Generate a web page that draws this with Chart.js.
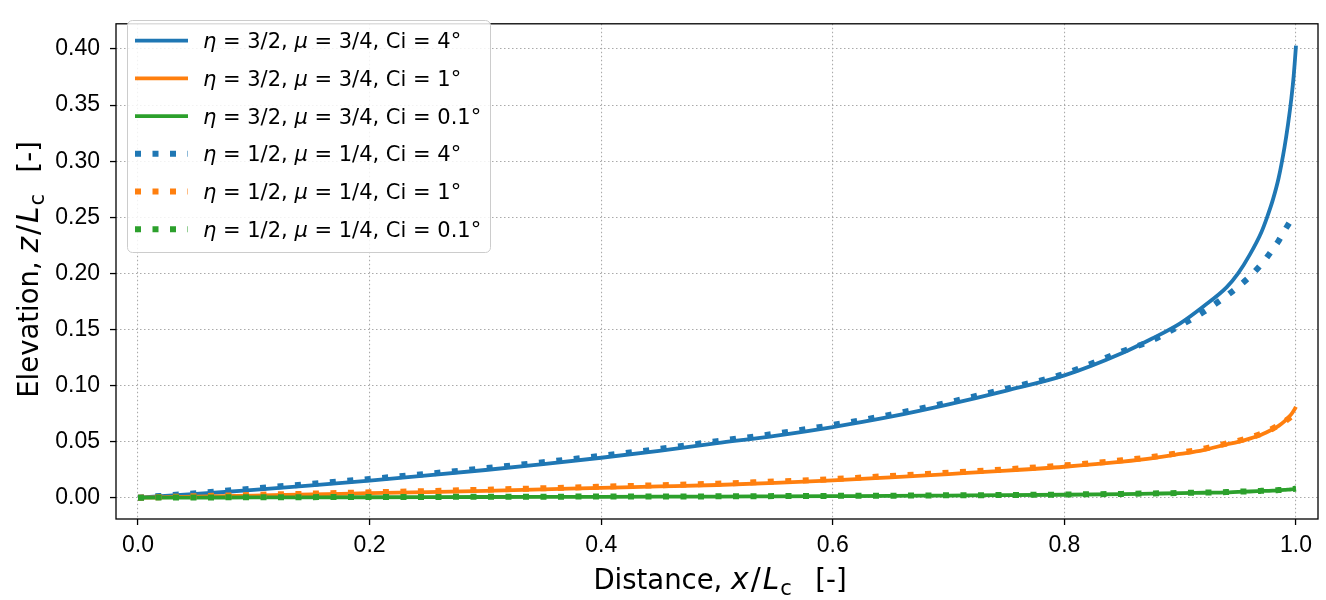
<!DOCTYPE html>
<html>
<head>
  <title>Elevation profiles</title>
  <script src="https://cdn.jsdelivr.net/npm/chart.js"></script>
  <style>
    body { margin: 0; background: #fff; }
    #wrap { width: 1326px; height: 600px; }
  </style>
</head>
<body>
  <div id="wrap"><canvas id="myChart"></canvas></div>

  <script>
    // Distance x/Lc (shared by every curve), denser near the tip
    var xs = [0, 0.05, 0.1, 0.15, 0.2, 0.25, 0.3, 0.35, 0.4, 0.45, 0.5, 0.55, 0.6, 0.65, 0.7, 0.75,
              0.8, 0.85, 0.875, 0.9, 0.92, 0.94, 0.95, 0.96, 0.97, 0.975, 0.98, 0.985, 0.99, 0.993,
              0.996, 0.998, 0.999, 1.0];

    // eta = 3/2, mu = 3/4 (solid)
    var solidCi4 = [0, 0.0033, 0.0070, 0.0110, 0.0152, 0.0198, 0.0247, 0.0299, 0.0356, 0.0418, 0.0486, 0.0552,
                    0.0630, 0.0722, 0.0832, 0.0955, 0.1090, 0.1290, 0.1415, 0.1555, 0.1705, 0.1875, 0.2000,
                    0.2165, 0.2365, 0.2500, 0.2655, 0.2850, 0.3120, 0.3320, 0.3560, 0.3760, 0.3890, 0.4030];
    var solidCi1 = [0, 0.0009, 0.0019, 0.0029, 0.0040, 0.0050, 0.0061, 0.0074, 0.0088, 0.0100, 0.0113, 0.0132,
                    0.0154, 0.0182, 0.0211, 0.0241, 0.0276, 0.0321, 0.0350, 0.0390, 0.0425, 0.0475, 0.0498,
                    0.0527, 0.0562, 0.0585, 0.0610, 0.0640, 0.0680, 0.0710, 0.0745, 0.0775, 0.0792, 0.0810];
    var solidCi01 = [0, 0.0001, 0.0002, 0.0003, 0.0004, 0.0005, 0.0006, 0.0007, 0.0008, 0.0009, 0.0010, 0.0012,
                     0.0014, 0.0016, 0.0019, 0.0022, 0.0026, 0.0032, 0.0036, 0.0040, 0.0044, 0.0048, 0.0052,
                     0.0055, 0.0059, 0.0061, 0.0063, 0.0066, 0.0069, 0.0071, 0.0074, 0.0076, 0.0077, 0.0078];

    // eta = 1/2, mu = 1/4 (dotted)
    var dotCi4 = [0, 0.0040, 0.0082, 0.0124, 0.0167, 0.0213, 0.0263, 0.0316, 0.0373, 0.0435, 0.0503, 0.0570,
                  0.0648, 0.0740, 0.0850, 0.0972, 0.1105, 0.1305, 0.1400, 0.1535, 0.1655, 0.1800, 0.1880,
                  0.1970, 0.2080, 0.2145, 0.2215, 0.2290, 0.2380, 0.2430, 0.2480, 0.2505, 0.2515, 0.2525];
    var dotCi1 = [0, 0.0013, 0.0025, 0.0036, 0.0048, 0.0059, 0.0071, 0.0084, 0.0098, 0.0111, 0.0125, 0.0144,
                  0.0166, 0.0194, 0.0223, 0.0253, 0.0288, 0.0333, 0.0362, 0.0400, 0.0435, 0.0483, 0.0506,
                  0.0535, 0.0570, 0.0592, 0.0617, 0.0645, 0.0678, 0.0700, 0.0722, 0.0735, 0.0740, 0.0745];
    var dotCi01 = [0, 0.0002, 0.0004, 0.0005, 0.0006, 0.0007, 0.0008, 0.0009, 0.0010, 0.0011, 0.0012, 0.0014,
                   0.0016, 0.0018, 0.0021, 0.0024, 0.0028, 0.0034, 0.0038, 0.0042, 0.0046, 0.0050, 0.0054,
                   0.0057, 0.0061, 0.0063, 0.0065, 0.0068, 0.0071, 0.0073, 0.0076, 0.0078, 0.0079, 0.0080];

    var seriesNames = [
      'η = 3/2, μ = 3/4, Ci = 4°',
      'η = 3/2, μ = 3/4, Ci = 1°',
      'η = 3/2, μ = 3/4, Ci = 0.1°',
      'η = 1/2, μ = 1/4, Ci = 4°',
      'η = 1/2, μ = 1/4, Ci = 1°',
      'η = 1/2, μ = 1/4, Ci = 0.1°'
    ];
    var seriesValues = [solidCi4, solidCi1, solidCi01, dotCi4, dotCi1, dotCi01];

    var xTicks = [0, 0.2, 0.4, 0.6, 0.8, 1.0];
    var yTicks = [0, 0.05, 0.10, 0.15, 0.20, 0.25, 0.30, 0.35, 0.40];

    // axis titles: [text, style, extra gap after]  n = normal, i = math italic, m = math upright, sub = subscript
    var xTitle = [['Distance, ', 'n'], ['x', 'i', 2], ['/', 'm', 2], ['L', 'i', 1], ['c', 'sub'], ['  ', 'n', 6], ['[-]', 'n']];
    var yTitle = [['Elevation, ', 'n'], ['z', 'i', 2], ['/', 'm', 2], ['L', 'i', 1], ['c', 'sub'], ['  ', 'n', 4], ['[-]', 'n']];

    var colors = ['#1f77b4', '#ff7f0e', '#2ca02c'];
    var FONT = '"Liberation Sans", Arial, Helvetica, sans-serif';
    var TEXT_FONT = '"DejaVu Sans", Verdana, sans-serif';

    function fontFor(style, size) {
      if (style === 'i') return 'italic ' + (size * 1.08).toFixed(1) + 'px ' + TEXT_FONT;
      if (style === 'm') return (size * 1.08).toFixed(1) + 'px ' + TEXT_FONT;
      if (style === 'sub') return Math.round(size * 0.75) + 'px ' + TEXT_FONT;
      return size + 'px ' + TEXT_FONT;
    }

    // draw text made of several runs with different styles
    function drawRich(ctx, parts, x, y, size, align) {
      var total = 0;
      var widths = parts.map(function(p) {
        ctx.font = fontFor(p[1], size);
        var w = ctx.measureText(p[0]).width + (p[2] || 0);
        total += w;
        return w;
      });
      var cx = align === 'center' ? x - total / 2 : x;
      parts.forEach(function(p, i) {
        ctx.font = fontFor(p[1], size);
        var dy = p[1] === 'sub' ? size * 0.2 : 0;
        ctx.fillText(p[0], cx, y + dy);
        cx += widths[i];
      });
      return total;
    }

    function richLabel(s) {
      var parts = [];
      s.split(/([ημ])/).forEach(function(t) {
        if (t) parts.push([t, /[ημ]/.test(t) ? 'li' : 'n']);
      });
      return parts;
    }

    var datasets = seriesValues.map(function(vals, i) {
      var dotted = i >= 3;
      return {
        label: seriesNames[i],
        data: xs.map(function(x, k) { return { x: x, y: vals[k] }; }),
        borderColor: colors[i % 3],
        backgroundColor: colors[i % 3],
        borderWidth: dotted ? 6 : 3.8,
        borderDash: dotted ? [6, 11.5] : [],
        borderCapStyle: 'butt',
        pointRadius: 0,
        cubicInterpolationMode: 'monotone',
        fill: false,
        order: 5 - i
      };
    });

    // legend runs: plain text, greek letters in oblique
    function legendFont(style, size) {
      return (style === 'li' ? 'italic ' : '') + size + 'px ' + TEXT_FONT;
    }

    // frame, legend and axis titles
    var decorPlugin = {
      id: 'decor',
      afterDatasetsDraw: function(chart) {
        var ctx = chart.ctx;
        var a = chart.chartArea;
        ctx.save();

        // frame
        ctx.strokeStyle = '#000';
        ctx.lineWidth = 1.3;
        ctx.setLineDash([]);
        ctx.strokeRect(a.left, a.top, a.right - a.left, a.bottom - a.top);

        // legend box
        var bx = 127.5, by = 20.5, bw = 363, bh = 232, r = 5;
        ctx.beginPath();
        ctx.moveTo(bx + r, by);
        ctx.arcTo(bx + bw, by, bx + bw, by + bh, r);
        ctx.arcTo(bx + bw, by + bh, bx, by + bh, r);
        ctx.arcTo(bx, by + bh, bx, by, r);
        ctx.arcTo(bx, by, bx + bw, by, r);
        ctx.closePath();
        ctx.fillStyle = 'rgba(255,255,255,0.85)';
        ctx.fill();
        ctx.strokeStyle = '#cccccc';
        ctx.lineWidth = 1;
        ctx.stroke();

        chart.data.datasets.forEach(function(ds, i) {
          var ry = 40.7 + i * 37.7;
          ctx.beginPath();
          ctx.strokeStyle = ds.borderColor;
          ctx.lineWidth = ds.borderWidth;
          ctx.lineCap = 'butt';
          ctx.setLineDash(ds.borderDash);
          ctx.moveTo(135, ry);
          ctx.lineTo(188, ry);
          ctx.stroke();
          ctx.setLineDash([]);
          ctx.fillStyle = '#000';
          ctx.textAlign = 'left';
          ctx.textBaseline = 'alphabetic';
          var cx = 203;
          richLabel(ds.label).forEach(function(p) {
            ctx.font = legendFont(p[1], 21);
            ctx.fillText(p[0], cx, ry + 7.5);
            cx += ctx.measureText(p[0]).width;
          });
        });

        // axis titles
        ctx.fillStyle = '#000';
        ctx.textAlign = 'left';
        ctx.textBaseline = 'alphabetic';
        drawRich(ctx, xTitle, (a.left + a.right) / 2 + 3, 589, 27.5, 'center');

        ctx.translate(38, (a.top + a.bottom) / 2);
        ctx.rotate(-Math.PI / 2);
        drawRich(ctx, yTitle, 2, 0, 27.5, 'center');

        ctx.restore();
      }
    };

    var ctx = document.getElementById('myChart').getContext('2d');
    var myChart = new Chart(ctx, {
      type: 'line',
      data: { datasets: datasets },
      options: {
        responsive: true,
        maintainAspectRatio: false,
        animation: false,
        layout: { padding: { left: 0, top: 8, right: 8, bottom: 0 } },
        plugins: {
          legend: { display: false },
          tooltip: { enabled: false }
        },
        scales: {
          x: {
            type: 'linear',
            min: -0.019,
            max: 1.019,
            afterBuildTicks: function(s) { s.ticks = xTicks.map(function(v) { return { value: v }; }); },
            afterFit: function(s) { s.height = 81; },
            border: { display: false, dash: [1.5, 2.5] },
            grid: { color: '#aaaaaa', lineWidth: 1.1, tickColor: '#000', tickLength: 6, tickWidth: 1.3, tickBorderDash: [] },
            ticks: {
              padding: 7,
              color: '#000',
              font: { family: FONT, size: 23 },
              maxRotation: 0,
              callback: function(v) { return v.toFixed(1); }
            }
          },
          y: {
            min: -0.019,
            max: 0.4225,
            afterBuildTicks: function(s) { s.ticks = yTicks.map(function(v) { return { value: v }; }); },
            afterFit: function(s) { s.width = 116; },
            border: { display: false, dash: [1.5, 2.5] },
            grid: { color: '#aaaaaa', lineWidth: 1.1, tickColor: '#000', tickLength: 6, tickWidth: 1.3, tickBorderDash: [] },
            ticks: {
              padding: 10,
              color: '#000',
              font: { family: FONT, size: 23 },
              callback: function(v) { return v.toFixed(2); }
            }
          }
        }
      },
      plugins: [decorPlugin]
    });
  </script>
</body>
</html>
